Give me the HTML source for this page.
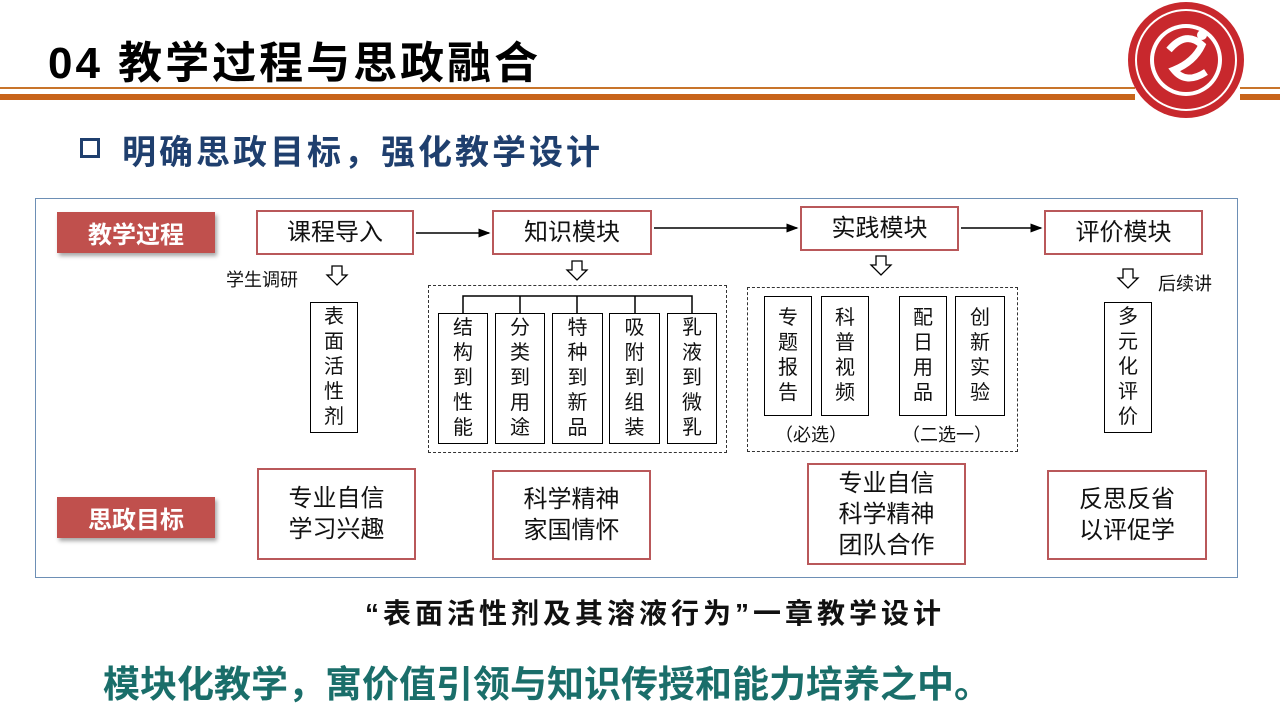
<!DOCTYPE html>
<html><head><meta charset="utf-8"><style>
*{margin:0;padding:0;box-sizing:border-box}
body{width:1280px;height:720px;background:#fff;position:relative;overflow:hidden;font-family:"Liberation Sans","Noto Sans CJK SC",sans-serif}
.a{position:absolute}
.rb{position:absolute;border:2px solid #b9585a;background:#fff;display:flex;align-items:center;justify-content:center;text-align:center;font-size:24px;color:#111;line-height:31px}
.lab{position:absolute;background:#c0504d;color:#fff;font-weight:bold;font-size:24px;display:flex;align-items:center;justify-content:center;box-shadow:2px 3px 4px rgba(0,0,0,.35)}
.vb{position:absolute;border:1.5px solid #000;background:#fff;font-size:20px;line-height:25px;text-align:center;color:#111;display:flex;align-items:center;justify-content:center}
.dash{position:absolute;border:1px dashed #333}
.t{position:absolute;font-size:18px;color:#111;white-space:nowrap}
</style></head><body>
<div class="a" style="left:48px;top:27px;font-size:44px;font-weight:bold;color:#000;letter-spacing:3px;white-space:nowrap">04 教学过程与思政融合</div>
<div class="a" style="left:0;top:87px;width:1135px;height:2px;background:#c8742a"></div>
<div class="a" style="left:0;top:94px;width:1135px;height:6px;background:#c8641a"></div>
<div class="a" style="left:1240px;top:87px;width:40px;height:2px;background:#c8742a"></div>
<div class="a" style="left:1240px;top:94px;width:40px;height:6px;background:#c8641a"></div>
<svg class="a" style="left:1124px;top:0" width="124" height="124">
<circle cx="62" cy="60" r="58" fill="#c8282d"/><circle cx="62" cy="60" r="50" fill="none" stroke="#fff" stroke-width="2"/>
<circle cx="62" cy="60" r="36" fill="#fff"/><circle cx="62" cy="60" r="32" fill="#c8282d"/>
<path d="M45 50 Q62 30 78 45 Q70 62 50 70 Q62 85 82 72" fill="none" stroke="#fff" stroke-width="7"/><circle cx="78" cy="35" r="5" fill="#fff"/></svg>
<div class="a" style="left:80px;top:138px;width:20px;height:20px;border:3px solid #1f3f6e"></div>
<div class="a" style="left:122px;top:125px;font-size:34px;font-weight:bold;color:#1f3f6e;letter-spacing:3px;white-space:nowrap">明确思政目标，强化教学设计</div>
<div class="a" style="left:35px;top:198px;width:1203px;height:380px;border:1.5px solid #6d8fb5"></div>
<div class="lab" style="left:57px;top:212px;width:158px;height:41px">教学过程</div>
<div class="lab" style="left:57px;top:497px;width:158px;height:41px">思政目标</div>
<div class="rb" style="left:256px;top:210px;width:158px;height:45px">课程导入</div>
<div class="rb" style="left:492px;top:210px;width:160px;height:45px">知识模块</div>
<div class="rb" style="left:800px;top:206px;width:159px;height:45px">实践模块</div>
<div class="rb" style="left:1044px;top:210px;width:159px;height:45px">评价模块</div>
<svg class="a" style="left:0;top:0" width="1280" height="720">
<defs><marker id="m" markerWidth="8" markerHeight="8" refX="7" refY="4" orient="auto"><path d="M0,1 L8,4 L0,7z" fill="#000"/></marker>
<g id="ha"><path d="M-5,0 H5 V9 H10 L0,19 L-10,9 H-5Z" fill="#fff" stroke="#000" stroke-width="1.3"/></g></defs>
<line x1="416" y1="233" x2="489" y2="233" stroke="#000" stroke-width="1.5" marker-end="url(#m)"/>
<line x1="654" y1="228" x2="797" y2="228" stroke="#000" stroke-width="1.5" marker-end="url(#m)"/>
<line x1="961" y1="228" x2="1041" y2="228" stroke="#000" stroke-width="1.5" marker-end="url(#m)"/>
<use href="#ha" x="337" y="266"/><use href="#ha" x="577" y="261"/><use href="#ha" x="881" y="256"/><use href="#ha" x="1128" y="269"/>
<path d="M463 313 V296 H692 V313 M520 296 V313 M577 296 V313 M635 296 V313" fill="none" stroke="#000" stroke-width="1.5"/>
</svg>
<div class="t" style="left:226px;top:266px">学生调研</div>
<div class="t" style="left:1158px;top:270px">后续讲</div>
<div class="vb" style="left:310px;top:302px;width:48px;height:131px">表<br>面<br>活<br>性<br>剂</div>
<div class="dash" style="left:428px;top:285px;width:299px;height:168px"></div>
<div class="vb" style="left:438px;top:313px;width:50px;height:131px">结<br>构<br>到<br>性<br>能</div>
<div class="vb" style="left:495px;top:313px;width:50px;height:131px">分<br>类<br>到<br>用<br>途</div>
<div class="vb" style="left:552px;top:313px;width:51px;height:131px">特<br>种<br>到<br>新<br>品</div>
<div class="vb" style="left:609px;top:313px;width:51px;height:131px">吸<br>附<br>到<br>组<br>装</div>
<div class="vb" style="left:667px;top:313px;width:50px;height:131px">乳<br>液<br>到<br>微<br>乳</div>
<div class="dash" style="left:747px;top:287px;width:271px;height:165px"></div>
<div class="vb" style="left:764px;top:296px;width:48px;height:120px">专<br>题<br>报<br>告</div>
<div class="vb" style="left:821px;top:296px;width:48px;height:120px">科<br>普<br>视<br>频</div>
<div class="vb" style="left:899px;top:296px;width:48px;height:120px">配<br>日<br>用<br>品</div>
<div class="vb" style="left:955px;top:296px;width:50px;height:120px">创<br>新<br>实<br>验</div>
<div class="t" style="left:775px;top:421px">（必选）</div>
<div class="t" style="left:902px;top:421px">（二选一）</div>
<div class="vb" style="left:1104px;top:302px;width:48px;height:131px">多<br>元<br>化<br>评<br>价</div>
<div class="rb" style="left:257px;top:468px;width:159px;height:92px">专业自信<br>学习兴趣</div>
<div class="rb" style="left:492px;top:470px;width:159px;height:90px">科学精神<br>家国情怀</div>
<div class="rb" style="left:807px;top:463px;width:159px;height:102px">专业自信<br>科学精神<br>团队合作</div>
<div class="rb" style="left:1047px;top:470px;width:160px;height:90px">反思反省<br>以评促学</div>
<div class="a" style="left:305px;top:592px;width:700px;text-align:center;font-size:28px;font-weight:bold;color:#111;letter-spacing:4px;white-space:nowrap">“表面活性剂及其溶液行为”一章教学设计</div>
<div class="a" style="left:103px;top:654px;font-size:37px;font-weight:bold;color:#1a6e6a;white-space:nowrap">模块化教学，寓价值引领与知识传授和能力培养之中。</div>
</body></html>
